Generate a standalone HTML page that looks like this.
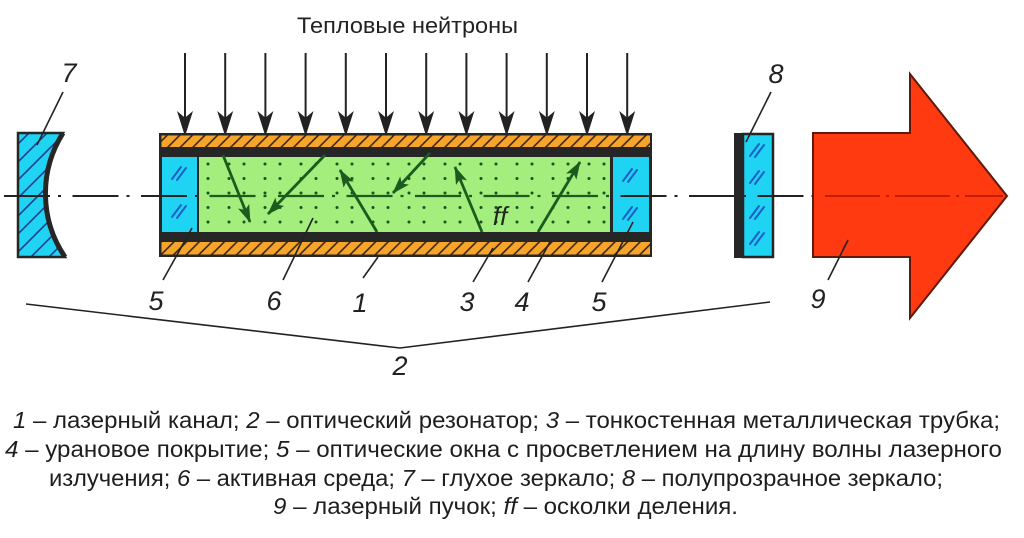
<!DOCTYPE html>
<html><head><meta charset="utf-8"><style>
html,body{margin:0;padding:0;background:#fff;}
svg{display:block;}
</style></head><body>
<svg width="1024" height="538" viewBox="0 0 1024 538" xmlns="http://www.w3.org/2000/svg">
<defs>
  <pattern id="orh" patternUnits="userSpaceOnUse" x="0" y="0" width="12.6" height="12.6">
    <rect width="12.6" height="12.6" fill="#f7a52a"/>
    <path d="M0,12.6 L12.6,0 M-2,2 L2,-2 M10.6,14.6 L14.6,10.6" stroke="#3a2410" stroke-width="1.6"/>
  </pattern>
  <pattern id="mh" patternUnits="userSpaceOnUse" x="0" y="0" width="18" height="18">
    <rect width="18" height="18" fill="#1fd3f2"/>
    <path d="M0,18 L18,0 M-2,2 L2,-2 M16,20 L20,16" stroke="#1b3f8c" stroke-width="1.6"/>
  </pattern>
  <pattern id="dots" patternUnits="userSpaceOnUse" x="200" y="157" width="36" height="14.5">
    <circle cx="8" cy="7" r="1.5" fill="#1c4f1c"/>
    <circle cx="29" cy="7" r="1.5" fill="#1c4f1c"/>
  </pattern>
  <clipPath id="greenclip"><rect x="199" y="150" width="411" height="90"/></clipPath>
  <marker id="gh" viewBox="0 -7 18 14" markerWidth="18" markerHeight="14" refX="17" refY="0" orient="auto" markerUnits="userSpaceOnUse">
    <path d="M0,-6 L18,0 L0,6 L4,0 Z" fill="#1d5a1d"/>
  </marker>
</defs>

<rect width="1024" height="538" fill="#ffffff"/>

<!-- title -->
<text x="297" y="33" font-family="Liberation Sans, Arial, sans-serif" font-size="22" fill="#222" textLength="221" lengthAdjust="spacingAndGlyphs">Тепловые нейтроны</text>

<!-- neutron arrows -->
<g stroke="#222" stroke-width="2" fill="#222">
  <line x1="185" y1="53" x2="185" y2="124"/><polygon points="185,133 179,114 185,119 191,114"/>
  <line x1="225.2" y1="53" x2="225.2" y2="124"/><polygon points="225.2,133 219.2,114 225.2,119 231.2,114"/>
  <line x1="265.4" y1="53" x2="265.4" y2="124"/><polygon points="265.4,133 259.4,114 265.4,119 271.4,114"/>
  <line x1="305.6" y1="53" x2="305.6" y2="124"/><polygon points="305.6,133 299.6,114 305.6,119 311.6,114"/>
  <line x1="345.8" y1="53" x2="345.8" y2="124"/><polygon points="345.8,133 339.8,114 345.8,119 351.8,114"/>
  <line x1="386" y1="53" x2="386" y2="124"/><polygon points="386,133 380,114 386,119 392,114"/>
  <line x1="426.2" y1="53" x2="426.2" y2="124"/><polygon points="426.2,133 420.2,114 426.2,119 432.2,114"/>
  <line x1="466.4" y1="53" x2="466.4" y2="124"/><polygon points="466.4,133 460.4,114 466.4,119 472.4,114"/>
  <line x1="506.6" y1="53" x2="506.6" y2="124"/><polygon points="506.6,133 500.6,114 506.6,119 512.6,114"/>
  <line x1="546.8" y1="53" x2="546.8" y2="124"/><polygon points="546.8,133 540.8,114 546.8,119 552.8,114"/>
  <line x1="587" y1="53" x2="587" y2="124"/><polygon points="587,133 581,114 587,119 593,114"/>
  <line x1="627.2" y1="53" x2="627.2" y2="124"/><polygon points="627.2,133 621.2,114 627.2,119 633.2,114"/>
</g>

<!-- mirror 7 -->
<path d="M18,133 L63,133 A113,113 0 0 0 65,257 L18,257 Z" fill="url(#mh)" stroke="#262626" stroke-width="2.5"/>
<path d="M63,133 A113,113 0 0 0 65,257" fill="none" stroke="#262626" stroke-width="5"/>

<!-- tube -->
<rect x="159" y="133" width="493" height="124" fill="#262626"/>
<rect x="161.5" y="135.5" width="488.5" height="11.5" fill="url(#orh)"/>
<rect x="161.5" y="242" width="488.5" height="12.5" fill="url(#orh)"/>
<rect x="162" y="157" width="35" height="75" fill="#1fd3f2"/>
<rect x="199" y="157" width="411" height="75" fill="#a3ee7d"/>
<rect x="199" y="157" width="411" height="75" fill="url(#dots)"/>
<rect x="613" y="157" width="36" height="75" fill="#1fd3f2"/>

<!-- mirror 8 -->
<rect x="734" y="133" width="9" height="125" fill="#262626"/>
<rect x="743" y="134" width="30" height="123" fill="#1fd3f2" stroke="#262626" stroke-width="2.5"/>

<!-- laser beam arrow 9 -->
<polygon points="813,133 910,133 910,74 1007,196 910,318 910,257 813,257" fill="#ff3a10" stroke="#5e1a0c" stroke-width="2"/>

<!-- center line -->
<line x1="4" y1="196" x2="813" y2="196" stroke="#222" stroke-width="2" stroke-dasharray="46 8 3 11.5"/>
<line x1="4" y1="196" x2="813" y2="196" stroke="#1d5a1d" stroke-width="2.2" stroke-dasharray="46 8 3 11.5" clip-path="url(#greenclip)"/>
<line x1="825" y1="196" x2="1003" y2="196" stroke="#c41c00" stroke-width="2" stroke-dasharray="55 6 3 6"/>

<!-- glass marks -->
<g stroke="#1e5fc6" stroke-width="2" fill="none" stroke-linecap="round">
  <path d="M172,179 L181,167 M177,180 L186,168"/>
  <path d="M172,217 L181,205 M177,218 L186,206"/>
  <path d="M623,181 L632,169 M628,182 L637,170"/>
  <path d="M623,219 L632,207 M628,220 L637,208"/>
  <path d="M750,156 L759,144 M755,157 L764,145"/>
  <path d="M750,183 L759,171 M755,184 L764,172"/>
  <path d="M750,218 L759,206 M755,219 L764,207"/>
  <path d="M750,244 L759,232 M755,245 L764,233"/>
</g>

<!-- fission fragment arrows -->
<g stroke="#1d5a1d" stroke-width="2.8" fill="none" marker-end="url(#gh)">
  <line x1="223" y1="155" x2="250" y2="222"/>
  <line x1="325" y1="155" x2="268" y2="214"/>
  <line x1="377" y1="232" x2="340" y2="170"/>
  <line x1="430" y1="153" x2="393" y2="193"/>
  <line x1="482" y1="232" x2="455" y2="167"/>
  <line x1="538" y1="232" x2="580" y2="162"/>
</g>
<text x="500" y="225" text-anchor="middle" font-family="Liberation Sans, Arial, sans-serif" font-style="italic" font-size="26" fill="#1e2a1e">ff</text>

<!-- leader lines -->
<g stroke="#222" stroke-width="1.6">
  <line x1="63" y1="92" x2="37" y2="145"/>
  <line x1="163" y1="280" x2="192" y2="228"/>
  <line x1="283" y1="280" x2="313" y2="218"/>
  <line x1="363" y1="278" x2="378" y2="257"/>
  <line x1="473" y1="282" x2="493" y2="248"/>
  <line x1="528" y1="282" x2="551" y2="240"/>
  <line x1="602" y1="282" x2="633" y2="222"/>
  <line x1="771" y1="92" x2="746" y2="142"/>
  <line x1="828" y1="280" x2="848" y2="240"/>
  <polyline points="26,304 400,348 770,302" fill="none"/>
</g>

<!-- number labels -->
<g font-family="Liberation Sans, Arial, sans-serif" font-style="italic" font-size="27" fill="#222" text-anchor="middle">
  <text x="69" y="82">7</text>
  <text x="156" y="310">5</text>
  <text x="274" y="310">6</text>
  <text x="360" y="312">1</text>
  <text x="467" y="311">3</text>
  <text x="522" y="311">4</text>
  <text x="599" y="311">5</text>
  <text x="776" y="83">8</text>
  <text x="818" y="308">9</text>
  <text x="400" y="375">2</text>
</g>

<!-- legend -->
<g font-family="Liberation Sans, Arial, sans-serif" font-size="23" fill="#1e1e1e">
  <text x="13" y="428" textLength="987" lengthAdjust="spacingAndGlyphs"><tspan font-style="italic">1</tspan> – лазерный канал; <tspan font-style="italic">2</tspan> – оптический резонатор; <tspan font-style="italic">3</tspan> – тонкостенная металлическая трубка;</text>
  <text x="5" y="457" textLength="997" lengthAdjust="spacingAndGlyphs"><tspan font-style="italic">4</tspan> – урановое покрытие; <tspan font-style="italic">5</tspan> – оптические окна с просветлением на длину волны лазерного</text>
  <text x="49" y="486" textLength="894" lengthAdjust="spacingAndGlyphs">излучения; <tspan font-style="italic">6</tspan> – активная среда; <tspan font-style="italic">7</tspan> – глухое зеркало; <tspan font-style="italic">8</tspan> – полупрозрачное зеркало;</text>
  <text x="273" y="514" textLength="465" lengthAdjust="spacingAndGlyphs"><tspan font-style="italic">9</tspan> – лазерный пучок; <tspan font-style="italic">ff</tspan> – осколки деления.</text>
</g>
</svg>
</body></html>
